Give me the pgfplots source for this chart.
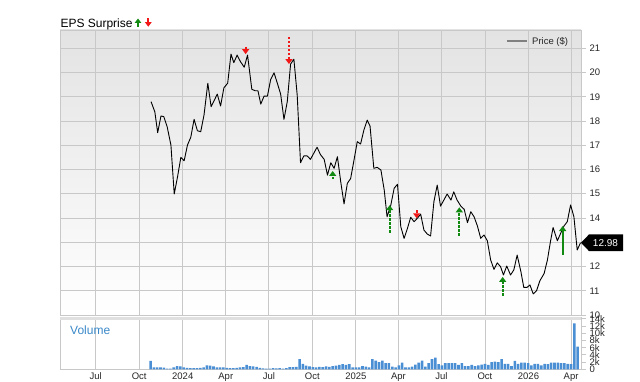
\documentclass[border=0pt]{standalone}
\usepackage{fontspec}
\setmainfont{Liberation Sans}
\usepackage{pgfplots}
\pgfplotsset{compat=1.18}
\usetikzlibrary{arrows.meta}
\definecolor{gridc}{HTML}{C8C8C8}
\definecolor{bgtop}{HTML}{E3E3E3}
\definecolor{upg}{HTML}{128A12}
\definecolor{dnr}{HTML}{F21818}
\definecolor{volb}{HTML}{4A8ED3}
\definecolor{voltxt}{HTML}{3A88C8}
\definecolor{bandc}{HTML}{E0E0E0}

\pgfplotstableread{
x y
117 18.80
125 18.38
131 17.52
138 18.21
144 18.18
151 17.77
159 17.01
166 14.99
173 15.70
180 16.50
187 16.36
194 17.01
201 17.33
208 18.07
215 17.60
222 17.56
229 18.25
237 19.56
244 18.59
250 18.83
257 19.11
264 18.62
271 19.37
279 19.56
286 20.76
292 20.41
299 20.72
306 20.45
314 20.22
321 20.72
330 19.31
337 19.25
343 19.25
349 18.70
356 19.03
363 19.03
370 19.72
377 19.99
384 19.56
391 19.11
398 18.07
405 18.80
412 20.35
419 20.55
426 19.07
433 16.28
440 16.56
447 16.56
454 16.42
461 16.67
468 16.92
475 16.62
483 16.42
490 15.77
497 16.28
504 16.05
511 16.53
518 15.50
525 14.58
532 15.43
539 15.63
546 16.38
553 17.15
560 17.05
567 17.63
574 18.04
580 17.79
588 16.05
595 16.09
603 15.98
610 15.15
616 14.05
624 14.54
631 15.23
638 15.39
645 13.64
652 13.16
659 13.57
666 14.03
673 13.85
680 13.99
687 14.16
694 13.50
701 13.34
708 13.26
715 14.67
722 15.36
729 14.49
736 14.74
743 14.99
751 14.74
757 15.08
764 14.74
772 14.49
779 14.36
786 13.81
793 14.26
800 14.05
807 13.67
814 13.16
821 13.30
828 13.06
835 12.27
842 11.88
849 12.15
856 11.99
862 11.65
869 12.02
877 11.65
884 11.86
891 12.47
899 11.78
905 11.14
912 11.14
918 11.24
925 10.87
932 11.00
939 11.41
948 11.71
955 12.27
962 13.09
967 13.61
976 13.06
983 13.37
990 13.67
997 13.85
1004 14.54
1011 14.05
1018 12.68
1025 12.98
}\pricedata

\pgfplotstableread{
x v
116 2.3
123 0.55
130 0.55
137 0.5
144 0.45
151 0.2
158 0.2
165 0.5
172 0.9
179 0.8
186 0.5
193 0.4
200 0.3
207 0.3
214 0.3
221 0.4
228 0.5
235 1.1
242 1.0
249 0.8
256 0.5
263 0.5
270 0.55
277 0.4
284 0.3
291 0.3
298 0.4
305 0.5
312 0.6
319 1.2
326 0.9
333 0.8
340 0.7
347 0.4
354 0.25
361 0.2
368 0.2
375 0.3
382 0.25
389 0.3
396 0.2
403 0.3
410 0.6
417 0.6
424 0.7
431 2.8
438 1.5
445 1.0
452 0.8
459 0.6
466 0.5
473 0.7
480 0.6
487 0.8
494 0.7
501 0.9
508 1.0
515 1.2
522 1.4
529 1.2
536 1.4
543 0.55
550 0.55
557 0.55
564 0.9
571 0.75
578 0.55
585 2.8
592 2.4
599 2.0
606 2.4
613 1.7
620 1.7
627 0.75
634 0.55
641 1.1
648 1.85
655 0.55
662 0.55
669 0.75
676 1.3
683 1.85
690 2.4
697 0.75
704 1.7
711 2.8
718 3.2
725 1.4
732 1.1
739 1.7
746 1.7
753 1.7
760 1.7
767 1.2
774 1.7
781 0.9
788 0.9
795 1.2
802 0.9
809 1.1
816 1.3
823 1.5
830 1.2
837 2.0
844 2.1
851 2.0
858 2.8
865 1.5
872 1.5
879 0.9
886 2.3
893 1.5
900 1.85
907 1.85
914 1.7
921 1.1
928 1.5
935 1.5
942 1.1
949 1.5
956 1.4
963 1.85
970 1.85
977 1.85
984 1.7
991 1.7
998 1.5
1005 1.4
1012 12.7
1019 6.3
}\voldata

\pgfplotsset{
  chartbase/.style={
    scale only axis, width=521pt, anchor=south west,
    xmin=-75.5, xmax=1026,
    xtick={0,92,184,275,366,458,550,640,731,823,915,1005},
    axis line style={gridc, line width=0.8pt},
    xmajorgrids, ymajorgrids=false,
    major grid style={gridc, line width=0.8pt},
    xtick style={draw=none},
    ytick pos=right, yticklabel pos=right,
    tick align=outside, major tick length=5pt,
    ytick style={gridc, line width=0.8pt},
    yticklabel style={font=\fontsize{9.5}{10}\selectfont, text=black!85},
    xticklabel style={font=\fontsize{9.5}{10}\selectfont, text=black!85, yshift=5pt},
  }
}

\begin{document}
\begin{tikzpicture}[x=1pt,y=1pt]
\path[use as bounding box] (0pt,0pt) rectangle (640pt,382pt);

% price panel
\begin{axis}[chartbase,
  at={(60pt,67pt)}, height=285pt,
  ymin=10, ymax=21.755,
  ytick={10,11,12,13,14,15,16,17,18,19,20,21},
  yticklabels={10,11,12,{},14,15,16,17,18,19,20,21},
  ymajorgrids,
  xticklabels={},
  axis background/.style={top color=bgtop, middle color=white, bottom color=white},
]
\addplot[black, line width=0.9pt, line join=round] table[x=x,y=y] {\pricedata};
% EPS surprise markers: beats (green, up) and misses (red, down)
\addplot[dnr, line width=1.8pt, dash pattern=on 2.5pt off 1.5pt,
  -{Triangle[width=7pt,length=5pt]}, quiver={u=\thisrow{u}, v=\thisrow{v}}]
  table {
x y u v
317 21.07 0 -0.31
408.6 21.47 0 -1.12
678.6 14.33 0 -0.34
};
\addplot[upg, line width=1.8pt, dash pattern=on 2.5pt off 1.5pt,
  -{Triangle[width=7pt,length=5pt]}, quiver={u=\thisrow{u}, v=\thisrow{v}}]
  table {
x y u v
501 15.60 0 0.34
621.5 13.39 0 1.14
768.7 13.26 0 1.18
860.4 10.80 0 0.77
};
\addplot[upg, line width=1.8pt,
  -{Triangle[width=7pt,length=5pt]}, quiver={u=\thisrow{u}, v=\thisrow{v}}]
  table {
x y u v
987.2 12.47 0 1.20
};
\coordinate (lastp) at (axis cs:1026,12.98);
\end{axis}

% volume panel
\begin{axis}[chartbase,
  at={(60pt,12.7pt)}, height=51.8pt,
  ymin=0, ymax=14.33,
  ytick={0,2,4,6,8,10,12,14},
  yticklabels={0,2k,4k,6k,8k,10k,12k,14k},
  xticklabels={Jul,Oct,2024,Apr,Jul,Oct,2025,Apr,Jul,Oct,2026,Apr},
  xtick pos=bottom,
]
\addplot[ybar, bar width=5.4, fill=volb, draw=none] table[x=x,y=v] {\voldata};
\end{axis}

% band between panels
\fill[bandc] (60pt,62pt) rectangle (581pt,64.6pt);

% title and legend
\node[anchor=base west, inner sep=0, font=\fontsize{12}{14}\selectfont] at (60.3pt,354.8pt) {EPS Surprise};
\draw[upg, line width=1.8pt, -{Triangle[width=6.5pt,length=4.5pt]}] (138pt,355.3pt) -- (138pt,363.5pt);
\draw[dnr, line width=1.8pt, -{Triangle[width=6.5pt,length=4.5pt]}] (148.3pt,363.5pt) -- (148.3pt,355.3pt);
\node[anchor=west, inner sep=0, font=\fontsize{12}{14}\selectfont, text=voltxt] at (70pt,52pt) {Volume};
\draw[black!50, line width=2pt] (507pt,341pt) -- (527pt,341pt);
\node[anchor=west, inner sep=0, font=\fontsize{9.5}{11}\selectfont, text=black!85] at (532pt,340.5pt) {Price (\$)};

% last price tag
\fill[black] (lastp) -- ++(8pt,8.3pt) -- ++(34pt,0pt) -- ++(0pt,-16.6pt) -- ++(-34pt,0pt) -- cycle;
\node[text=white, font=\fontsize{10}{12}\selectfont, inner sep=0] at ([xshift=24.5pt]lastp) {12.98};
\end{tikzpicture}
\end{document}
